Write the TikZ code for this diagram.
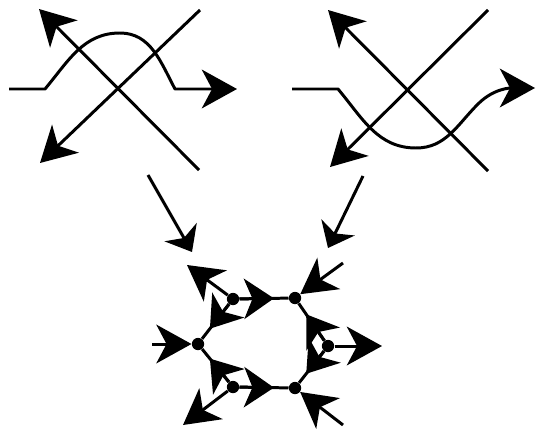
\documentclass[tikz,border=0pt]{standalone}
\usetikzlibrary{arrows.meta,calc}

\begin{document}
\begin{tikzpicture}[x=0.02cm,y=0.02cm,
  strand/.style={line width=1.7pt,line join=round},
  bighead/.style={-{Stealth[length=20pt,width=22pt,inset=5.8pt]}},
  movehead/.style={-{Stealth[length=13pt,width=21pt,inset=3.8pt]}},
  midhead/.style={-{Stealth[length=17pt,width=23pt,inset=4.8pt]}},
  vtx/.style={circle,fill,inner sep=0pt,minimum size=7pt}
]
\useasboundingbox (0,0) rectangle (536,-429);

% left crossing
\draw[strand,bighead] (199,-170) -- (39,-9);
\draw[strand,bighead] (200,-10) -- (40,-163);
\draw[strand,bighead] (9,-89) -- (45,-89) to[out=50,in=180] (120,-33)
  to[out=0,in=118] (175,-89) -- (237,-89);

% right crossing
\draw[strand,bighead] (488,-10) -- (330,-167);
\draw[strand,bighead] (488,-171) -- (328,-10);
\draw[strand,bighead] (292,-89) -- (338,-89) to[out=-50,in=180] (416,-148)
  to[out=0,in=-135] (478,-104) to[out=45,in=180] (535,-88);

% the two moves down
\coordinate (ml1) at (148,-175);
\coordinate (ml2) at (192,-252);
\coordinate (mr1) at (363,-176);
\coordinate (mr2) at (328,-248);
\draw[strand,movehead] (ml1) -- (ml2);
\draw[strand,movehead] (mr1) -- (mr2);

% web
\node[vtx] (a) at (198,-344) {};
\node[vtx] (b) at (233,-299) {};
\node[vtx] (c) at (295,-298) {};
\node[vtx] (d) at (328,-346) {};
\node[vtx] (e) at (295,-388) {};
\node[vtx] (f) at (233,-387) {};
\coordinate (la) at (152,-344);
\coordinate (lb) at (187,-265);
\coordinate (lc) at (343,-263);
\coordinate (ld) at (382,-346);
\coordinate (le) at (343,-425);
\coordinate (lf) at (183,-425);

\draw[strand,bighead] (la) -- (a);
\draw[strand,bighead] (b) -- (lb);
\draw[strand,bighead] (lc) -- (c);
\draw[strand,bighead] (d) -- (ld);
\draw[strand,bighead] (le) -- (e);
\draw[strand,bighead] (f) -- (lf);

\foreach \s/\t in {b/c,b/a,d/c,d/e,f/e,f/a} {
  \draw[strand] (\s) -- (\t);
  \draw[strand,midhead] (\s) -- ($(\s)!0.66!(\t)$);
}
\end{tikzpicture}
\end{document}
